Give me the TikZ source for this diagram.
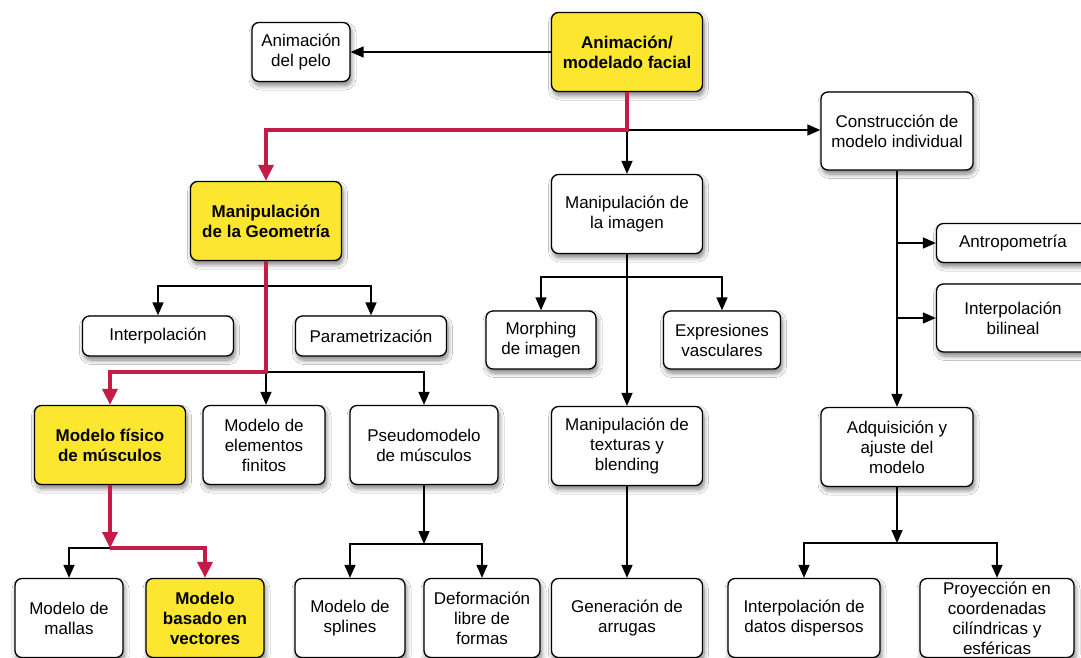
\documentclass[tikz,border=0pt]{standalone}
\usepackage{fontspec}
\setmainfont{Liberation Sans}
\usetikzlibrary{arrows.meta,shadows.blur,calc}
\definecolor{hlyellow}{RGB}{253,230,48}
\definecolor{pathred}{RGB}{196,28,70}

\begin{document}
\begin{tikzpicture}[x=1pt,y=-1pt,
  box/.style={draw=black, line width=1.3pt, rounded corners=7pt, fill=white,
    align=center, inner sep=0pt, font=\fontsize{17}{20}\selectfont,
    blur shadow={shadow xshift=1.5pt, shadow yshift=-4pt, shadow blur steps=8,
      shadow opacity=50, shadow blur radius=4.5pt}},
  hi/.style={box, fill=hlyellow, font=\fontsize{17}{20}\selectfont\bfseries},
  link/.style={draw=black, line width=1.5pt, line join=miter,
    -{Triangle[length=13pt,width=11pt]}},
  hot/.style={draw=pathred, line width=3.4pt, line join=miter,
    -{Triangle[length=16pt,width=15pt]}},
]
\useasboundingbox (0,0) rectangle (1081,657);
\clip (0,0) rectangle (1081,657);
\fill[white] (0,0) rectangle (1081,657);

% top row
\node[box, minimum width=98pt,  minimum height=59pt] (pelo)   at (301,52)  {Animación\\del pelo};
\node[hi,  minimum width=151pt, minimum height=79pt] (facial) at (627,52)  {Animación/\\modelado facial};
\node[box, minimum width=152pt, minimum height=78pt] (cons)   at (897,131) {Construcción de\\modelo individual};

% second level
\node[hi,  minimum width=151pt, minimum height=79pt] (geom)   at (266,221) {Manipulación\\de la Geometría};
\node[box, minimum width=151pt, minimum height=79pt] (imagen) at (627,214) {Manipulación de\\la imagen};
\node[box, minimum width=153pt, minimum height=39pt] (antro)  at (1013,243) {Antropometría};
\node[box, minimum width=153pt, minimum height=68pt] (bilin)  at (1013,318) {Interpolación\\bilineal};

\node[box, minimum width=151pt, minimum height=40pt] (interp) at (158,336) {Interpolación};
\node[box, minimum width=151pt, minimum height=40pt] (param)  at (371,336) {Parametrización};
\node[box, minimum width=110pt, minimum height=58pt] (morph)  at (541,340) {Morphing\\de imagen};
\node[box, minimum width=117pt, minimum height=58pt] (vasc)   at (722,340) {Expresiones\\vasculares};

% third level
\node[hi,  minimum width=151pt, minimum height=79pt] (fisico)  at (110,445) {Modelo físico\\de músculos};
\node[box, minimum width=122pt, minimum height=79pt] (finitos) at (264,445) {Modelo de\\elementos\\finitos};
\node[box, minimum width=148pt, minimum height=79pt] (pseudo)  at (424,445) {Pseudomodelo\\de músculos};
\node[box, minimum width=151pt, minimum height=79pt] (text)    at (627,446) {Manipulación de\\texturas y\\blending};
\node[box, minimum width=152pt, minimum height=79pt] (adq)     at (897,447) {Adquisición y\\ajuste del\\modelo};

% bottom row
\node[box, minimum width=108pt, minimum height=79pt] (mallas) at (69,618)  {Modelo de\\mallas};
\node[hi,  minimum width=118pt, minimum height=79pt] (vect)   at (205,618) {Modelo\\basado en\\vectores};
\node[box, minimum width=110pt, minimum height=79pt] (spl)    at (350,618) {Modelo de\\splines};
\node[box, minimum width=116pt, minimum height=79pt] (deform) at (482,618) {Deformación\\libre de\\formas};
\node[box, minimum width=151pt, minimum height=79pt] (arrug)  at (627,618) {Generación de\\arrugas};
\node[box, minimum width=152pt, minimum height=79pt] (disp)   at (804,618) {Interpolación de\\datos dispersos};
\node[box, minimum width=154pt, minimum height=79pt] (proy)   at (997,618) {Proyección en\\coordenadas\\cilíndricas y\\esféricas};

% junction points
\coordinate (jtop) at (627,130);
\coordinate (jg1)  at (266,286);
\coordinate (jg2)  at (266,372);
\coordinate (jf)   at (110,548);
\coordinate (jp)   at (424,544);
\coordinate (ji)   at (627,277);
\coordinate (ja)   at (897,543);

% black connectors
\draw[link] (facial.west) -- (pelo.east);
\draw[link] (jtop) -- (imagen.north);
\draw[link] (jtop) -- (jtop -| cons.west);

\draw[link] (cons.south) -- (adq.north);
\draw[link] (cons.south |- antro.west) -- (antro.west);
\draw[link] (cons.south |- bilin.west) -- (bilin.west);

\draw[link] (jg1) -| (interp.north);
\draw[link] (jg1) -| (param.north);
\draw[link] (jg2) -- (jg2 |- finitos.north);
\draw[link] (jg2) -| (pseudo.north);

\draw[link] (imagen.south) -- (text.north);
\draw[link] (ji) -| (morph.north);
\draw[link] (ji) -| (vasc.north);
\draw[link] (text.south) -- (arrug.north);

\draw[link] (pseudo.south) -- (jp);
\draw[link] (jp) -| (spl.north);
\draw[link] (jp) -| (deform.north);

\draw[link] (adq.south) -- (ja);
\draw[link] (ja) -| (disp.north);
\draw[link] (ja) -| (proy.north);

\draw[link] (jf) -| (mallas.north);

% highlighted path
\draw[hot] (facial.south) -- (jtop) -| (geom.north);
\draw[hot] (geom.south) -- (jg2) -| (fisico.north);
\draw[hot] (fisico.south) -- (jf);
\draw[hot] (jf) -| (vect.north);
\end{tikzpicture}
\end{document}
